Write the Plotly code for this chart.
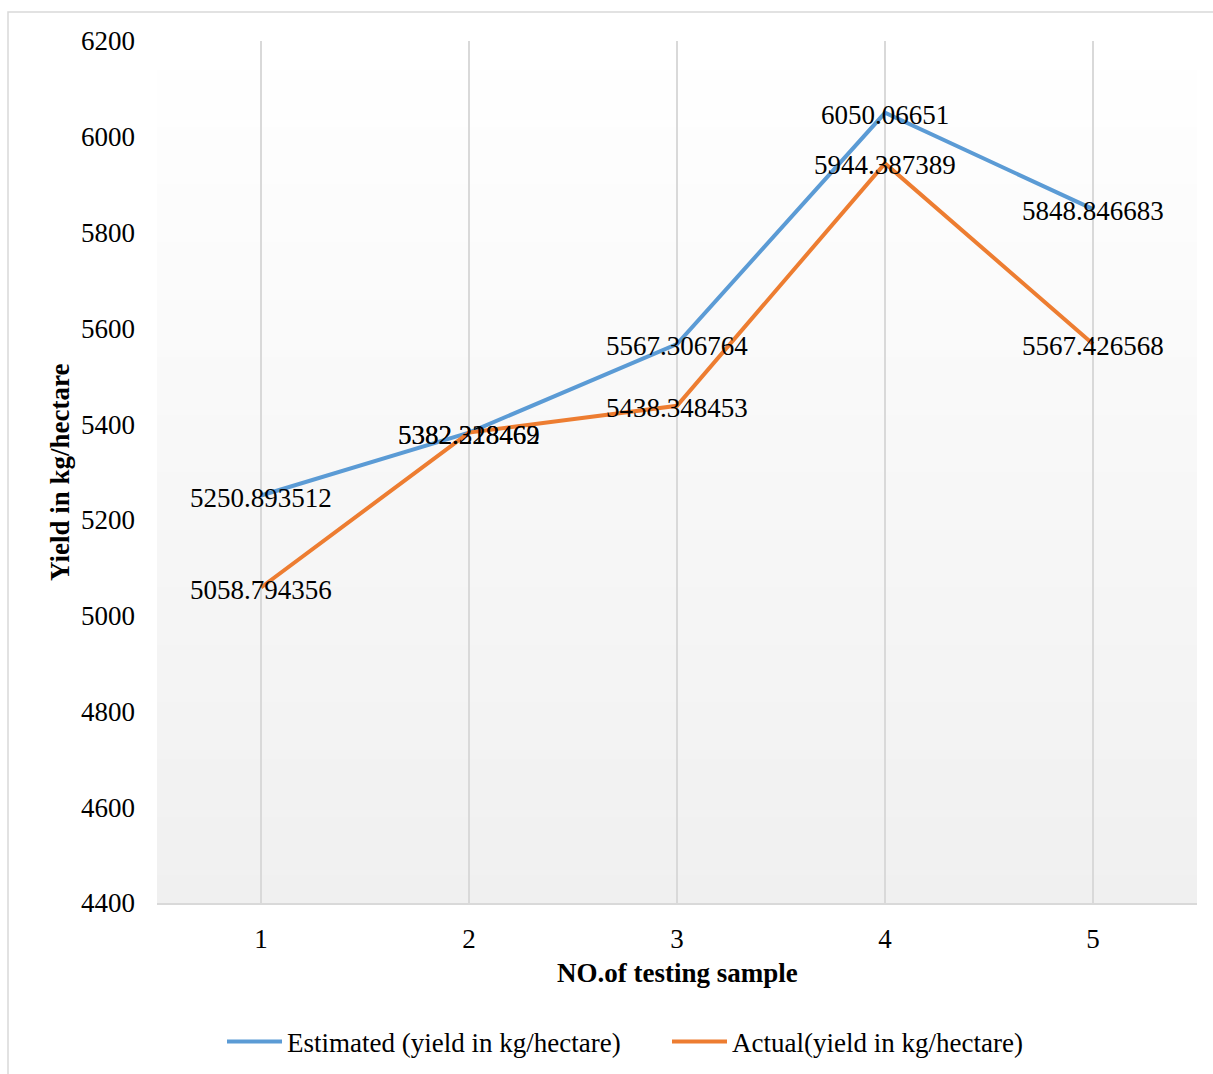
import plotly.graph_objects as go

# Yield comparison for five testing samples
samples = [1, 2, 3, 4, 5]
estimated = [5250.893512, 5382.318462, 5567.306764, 6050.06651, 5848.846683]
actual = [5058.794356, 5382.228469, 5438.348453, 5944.387389, 5567.426568]
y_ticks = [4400, 4600, 4800, 5000, 5200, 5400, 5600, 5800, 6000, 6200]

BLUE = "#5b9bd5"
ORANGE = "#ed7d31"
GRID = "#d9d9d9"
FONT = "Liberation Serif"

fig = go.Figure()

fig.add_trace(go.Scatter(
    x=samples, y=estimated, mode="lines",
    name="Estimated (yield in kg/hectare)",
    line=dict(color=BLUE, width=4),
))
fig.add_trace(go.Scatter(
    x=samples, y=actual, mode="lines",
    name="Actual(yield in kg/hectare)",
    line=dict(color=ORANGE, width=4),
))

# value labels centred on each point
annotations = []
for vals in (estimated, actual):
    for xv, yv in zip(samples, vals):
        annotations.append(dict(
            x=xv, y=yv, xref="x", yref="y", text=str(yv),
            showarrow=False, xanchor="center", yanchor="middle", yshift=-2,
            font=dict(family=FONT, size=27, color="#000000"),
        ))

annotations += [
    dict(text="<b>NO.of testing sample</b>", xref="paper", yref="paper",
         x=0.5, y=(903 - 973) / 862, xanchor="center", yanchor="middle",
         showarrow=False, font=dict(family=FONT, size=27, color="#000000")),
    dict(text="<b>Yield in kg/hectare</b>", xref="paper", yref="paper",
         x=(60 - 157) / 1040, y=0.5, xanchor="center", yanchor="middle",
         textangle=-90, showarrow=False,
         font=dict(family=FONT, size=27, color="#000000")),
]

# vertical white-to-grey gradient behind the plot area
shapes = []
n = 60
for i in range(n):
    t = i / n
    g = int(round(240 + (255 - 240) * (t + 0.5 / n)))
    shapes.append(dict(
        type="rect", xref="paper", yref="paper",
        x0=0, x1=1, y0=t, y1=(i + 1) / n + 0.002,
        fillcolor=f"rgb({g},{g},{g})", line=dict(width=0), layer="below",
    ))

# outer chart frame
shapes.append(dict(
    type="rect", xref="paper", yref="paper",
    x0=(8 - 157) / 1040, x1=(1230 - 157) / 1040,
    y0=(903 - 1090) / 862, y1=(903 - 12) / 862,
    line=dict(color=GRID, width=1.5), fillcolor="rgba(0,0,0,0)", layer="below",
))

fig.update_layout(
    width=1213, height=1074,
    margin=dict(l=157, r=16, t=41, b=171, autoexpand=False),
    paper_bgcolor="white", plot_bgcolor="white",
    font=dict(family=FONT, size=26, color="#000000"),
    shapes=shapes,
    annotations=annotations,
    showlegend=True,
    legend=dict(
        orientation="h", x=(222 - 157) / 1040, xanchor="left",
        y=(903 - 1042) / 862, yanchor="middle",
        font=dict(family=FONT, size=27, color="#000000"),
        itemwidth=55, entrywidth=375, entrywidthmode="pixels",
        bgcolor="rgba(0,0,0,0)",
    ),
)

fig.update_xaxes(
    range=[0.5, 5.5], tickvals=samples, ticktext=[str(s) for s in samples],
    showgrid=True, gridcolor=GRID, gridwidth=1.5,
    showline=True, linecolor=GRID, linewidth=2,
    zeroline=False, ticks="", ticklabelstandoff=11,
    tickfont=dict(family=FONT, size=27),
)
fig.update_yaxes(
    range=[4400, 6200], tickvals=y_ticks, ticktext=[str(v) for v in y_ticks],
    showgrid=False, showline=False, zeroline=False,
    ticks="", ticklabelstandoff=21,
    tickfont=dict(family=FONT, size=27),
)

fig.write_html("out.html")
